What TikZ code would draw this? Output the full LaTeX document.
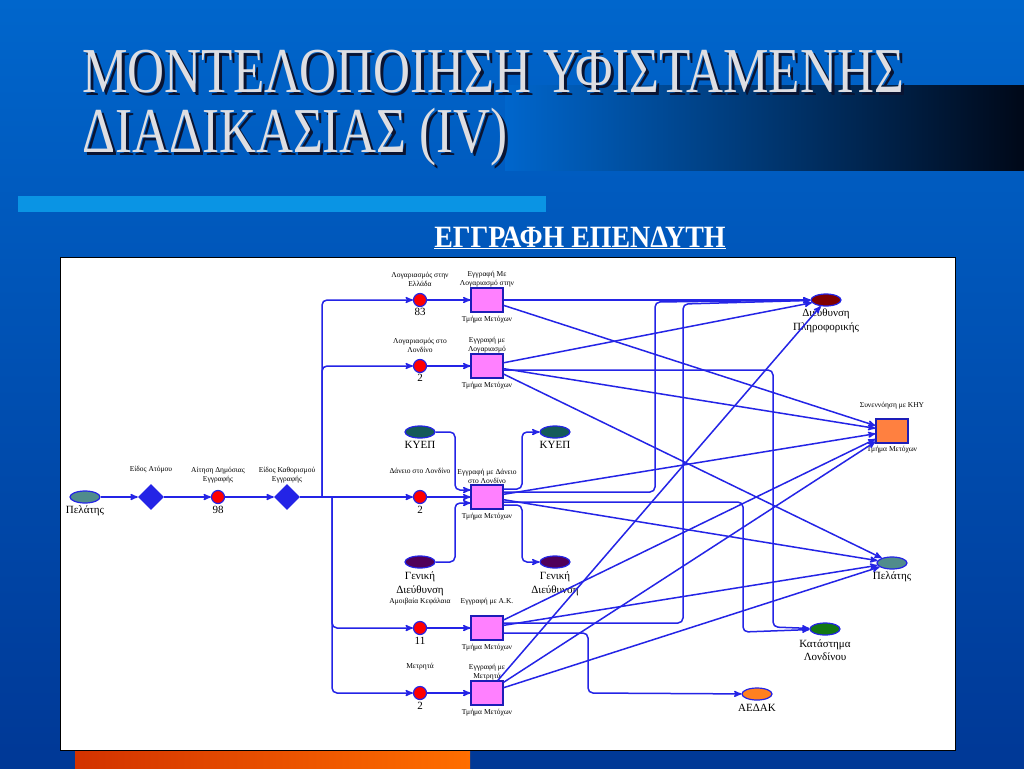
\documentclass[tikz,border=0pt]{standalone}
\usepackage{fontspec}
\setmainfont{Liberation Serif}
\newfontfamily\titlefont[FakeStretch=0.8]{Liberation Serif}
\newfontfamily\subfont[FakeStretch=0.9]{Liberation Serif}
\usetikzlibrary{arrows,shapes.geometric,positioning}

\definecolor{slideblue}{RGB}{0,102,204}
\definecolor{slidedeep}{RGB}{0,56,150}
\definecolor{barblue}{RGB}{10,148,228}
\definecolor{titlegrey}{RGB}{222,222,226}
\definecolor{titleshade}{RGB}{10,20,50}
\definecolor{flowblue}{RGB}{36,36,230}
\definecolor{boxpink}{RGB}{255,128,255}
\definecolor{pelfill}{RGB}{80,140,140}
\definecolor{kyepfill}{RGB}{20,90,90}
\definecolor{genfill}{RGB}{80,0,90}
\definecolor{dplfill}{RGB}{128,0,0}
\definecolor{katfill}{RGB}{20,120,20}
\definecolor{aedakfill}{RGB}{255,128,32}
\definecolor{khyfill}{RGB}{255,128,64}

\newcommand{\shadowtext}[1]{\makebox[0pt][l]{\hspace{3pt}\raisebox{-3pt}{\textcolor{titleshade}{#1}}}\textcolor{titlegrey}{#1}}

\begin{document}
\begin{tikzpicture}[x=1pt,y=-1pt,>=stealth',semithick]

  \tikzstyle{flow}=[->,draw=flowblue,line width=1.5pt,rounded corners=5pt]
  \tikzstyle{actor}=[ellipse,draw=flowblue,line width=1.2pt,minimum width=30pt,minimum height=12pt,inner sep=0pt]
  \tikzstyle{choice}=[diamond,fill=flowblue,minimum width=26pt,minimum height=26pt,inner sep=0pt]
  \tikzstyle{event}=[circle,draw=flowblue,fill=red,line width=1.2pt,minimum size=13pt,inner sep=0pt]
  \tikzstyle{task}=[rectangle,draw=flowblue!80!black,fill=boxpink,line width=1.2pt,minimum width=32pt,minimum height=24pt,inner sep=0pt]
  \tikzstyle{smalltext}=[font=\fontsize{7.5}{9}\selectfont,align=center,inner sep=0pt,text=black]
  \tikzstyle{caption}=[font=\fontsize{11}{13.5}\selectfont,align=center,inner sep=0pt]

  % slide
  \shade[top color=slideblue,bottom color=slidedeep] (0,0) rectangle (1024,768);
  \shade[left color=slideblue,right color={rgb,255:red,0;green,8;blue,24}] (505,85) rectangle (1024,170);
  \fill[barblue] (18,196) rectangle (546,212);
  \shade[left color={rgb,255:red,210;green,50;blue,0},right color={rgb,255:red,255;green,110;blue,0}] (75,750) rectangle (470,768);
  \draw[black,fill=white,line width=0.8pt] (60,257) rectangle (955,750);

  \node[anchor=base west,inner sep=0pt] (title1) at (82,92) {\titlefont\fontsize{64}{64}\selectfont \shadowtext{ΜΟΝΤΕΛΟΠΟΙΗΣΗ ΥΦΙΣΤΑΜΕΝΗΣ}};
  \node[anchor=base west,inner sep=0pt] (title2) at (82,152) {\titlefont\fontsize{64}{64}\selectfont \shadowtext{ΔΙΑΔΙΚΑΣΙΑΣ (IV)}};
  \node[anchor=base,inner sep=0pt,text=white] (subtitle) at (580,247) {\subfont\bfseries\fontsize{31}{31}\selectfont \underline{ΕΓΓΡΑΦΗ ΕΠΕΝΔΥΤΗ}};

  % start of the flow
  \node[actor,fill=pelfill] (pelL) at (85,497) {};
  \node[caption] (pelLt) at (85,511) {Πελάτης};
  \node[choice] (d1) at (151,497) {};
  \node[smalltext] (d1t) at (151,470) {Είδος Ατόμου};
  \node[event] (c0) at (218,497) {};
  \node[smalltext] (c0t) at (218,475) {Αίτηση Δημόσιας\\Εγγραφής};
  \node[caption] (c0n) at (218,510) {98};
  \node[choice] (d2) at (287,497) {};
  \node[smalltext] (d2t) at (287,475) {Είδος Καθορισμού\\Εγγραφής};
  \coordinate (ju) at (322,497);
  \coordinate (jd) at (332,497);

  % events and tasks
  \node[event] (cA) at (420,300) {};
  \node[smalltext] (cAt) at (420,279) {Λογαριασμός στην\\Ελλάδα};
  \node[caption] (cAn) at (420,312) {83};
  \node[task] (tA) at (487,300) {};
  \node[smalltext] (tAt) at (487,279) {Εγγραφή Με\\Λογαριασμό στην};
  \node[smalltext] (tAb) at (487,320) {Τμήμα Μετόχων};

  \node[event] (cB) at (420,366) {};
  \node[smalltext] (cBt) at (420,345) {Λογαριασμός στο\\Λονδίνο};
  \node[caption] (cBn) at (420,378) {2};
  \node[task] (tB) at (487,366) {};
  \node[smalltext] (tBt) at (487,345) {Εγγραφή με\\Λογαριασμό};
  \node[smalltext] (tBb) at (487,386) {Τμήμα Μετόχων};

  \node[event] (cC) at (420,497) {};
  \node[smalltext] (cCt) at (420,471) {Δάνειο στο Λονδίνο};
  \node[caption] (cCn) at (420,510) {2};
  \node[task] (tC) at (487,497) {};
  \node[smalltext] (tCt) at (487,476) {Εγγραφή με Δάνειο\\στο Λονδίνο};
  \node[smalltext] (tCb) at (487,517) {Τμήμα Μετόχων};

  \node[event] (cD) at (420,628) {};
  \node[smalltext] (cDt) at (420,602) {Αμοιβαία Κεφάλαια};
  \node[caption] (cDn) at (420,641) {11};
  \node[task] (tD) at (487,628) {};
  \node[smalltext] (tDt) at (487,602) {Εγγραφή με Α.Κ.};
  \node[smalltext] (tDb) at (487,648) {Τμήμα Μετόχων};

  \node[event] (cE) at (420,693) {};
  \node[smalltext] (cEt) at (420,667) {Μετρητά};
  \node[caption] (cEn) at (420,706) {2};
  \node[task] (tE) at (487,693) {};
  \node[smalltext] (tEt) at (487,672) {Εγγραφή με\\Μετρητά};
  \node[smalltext] (tEb) at (487,713) {Τμήμα Μετόχων};

  % actors round the loan task
  \node[actor,fill=kyepfill] (kyepL) at (420,432) {};
  \node[caption] (kyepLt) at (420,445) {ΚΥΕΠ};
  \node[actor,fill=genfill] (genL) at (420,562) {};
  \node[caption] (genLt) at (420,584) {Γενική\\Διεύθυνση};
  \node[actor,fill=kyepfill] (kyepR) at (555,432) {};
  \node[caption] (kyepRt) at (555,445) {ΚΥΕΠ};
  \node[actor,fill=genfill] (genR) at (555,562) {};
  \node[caption] (genRt) at (555,584) {Γενική\\Διεύθυνση};

  % receivers
  \node[actor,fill=dplfill] (dpl) at (826,300) {};
  \node[caption] (dplt) at (826,321) {Διεύθυνση\\Πληροφορικής};
  \node[task,fill=khyfill] (khy) at (892,431) {};
  \node[smalltext] (khyt) at (892,406) {Συνεννόηση με ΚΗΥ};
  \node[smalltext] (khyb) at (892,450) {Τμήμα Μετόχων};
  \node[actor,fill=pelfill] (pelR) at (892,563) {};
  \node[caption] (pelRt) at (892,577) {Πελάτης};
  \node[actor,fill=katfill] (kat) at (825,629) {};
  \node[caption] (katt) at (825,650) {Κατάστημα\\Λονδίνου};
  \node[actor,fill=aedakfill] (aedak) at (757,694) {};
  \node[caption] (aedakt) at (757,708) {ΑΕΔΑΚ};

  % connectors
  \draw[flow] (pelL) -- (d1);
  \draw[flow] (d1) -- (c0);
  \draw[flow] (c0) -- (d2);
  \draw[flow] (d2) -- (cC);
  \draw[flow] (ju) |- (cA);
  \draw[flow] (ju) |- (cB);
  \draw[flow] (jd) |- (cD);
  \draw[flow] (jd) |- (cE);

  \draw[flow] (cA) -- (tA);
  \draw[flow] (cB) -- (tB);
  \draw[flow] (cC) -- (tC);
  \draw[flow] (cD) -- (tD);
  \draw[flow] (cE) -- (tE);

  \draw[flow] (kyepL) -| (455,490) -- ([yshift=7pt]tC.west);
  \draw[flow] (genL) -| (455,503) -- ([yshift=-6pt]tC.west);
  \draw[flow] ([yshift=8pt]tC.east) -| (522,432) -- (kyepR);
  \draw[flow] ([yshift=-8pt]tC.east) -| (522,562) -- (genR);

  \draw[flow] (tA) -- (dpl);
  \draw[flow] (tA) -- (khy);
  \draw[flow] (tB) -- (dpl);
  \draw[flow] (tB) -- (khy);
  \draw[flow] (tB) -- (pelR);
  \draw[flow] ([yshift=-4pt]tB.east) -| (773,627) -- (kat);
  \draw[flow] ([yshift=5pt]tC.east) -| (655,302) -- (dpl);
  \draw[flow] (tC) -- (khy);
  \draw[flow] (tC) -- (pelR);
  \draw[flow] ([yshift=-5pt]tC.east) -| (743,632) -- (kat);
  \draw[flow] ([yshift=5pt]tD.east) -| (683,304) -- (dpl);
  \draw[flow] ([yshift=-5pt]tD.east) -| (588,693) -- (aedak);
  \draw[flow] (tD) -- (khy);
  \draw[flow] (tD) -- (pelR);
  \draw[flow] (tE) -- (dpl);
  \draw[flow] (tE) -- (khy);
  \draw[flow] (tE) -- (pelR);
\end{tikzpicture}
\end{document}
